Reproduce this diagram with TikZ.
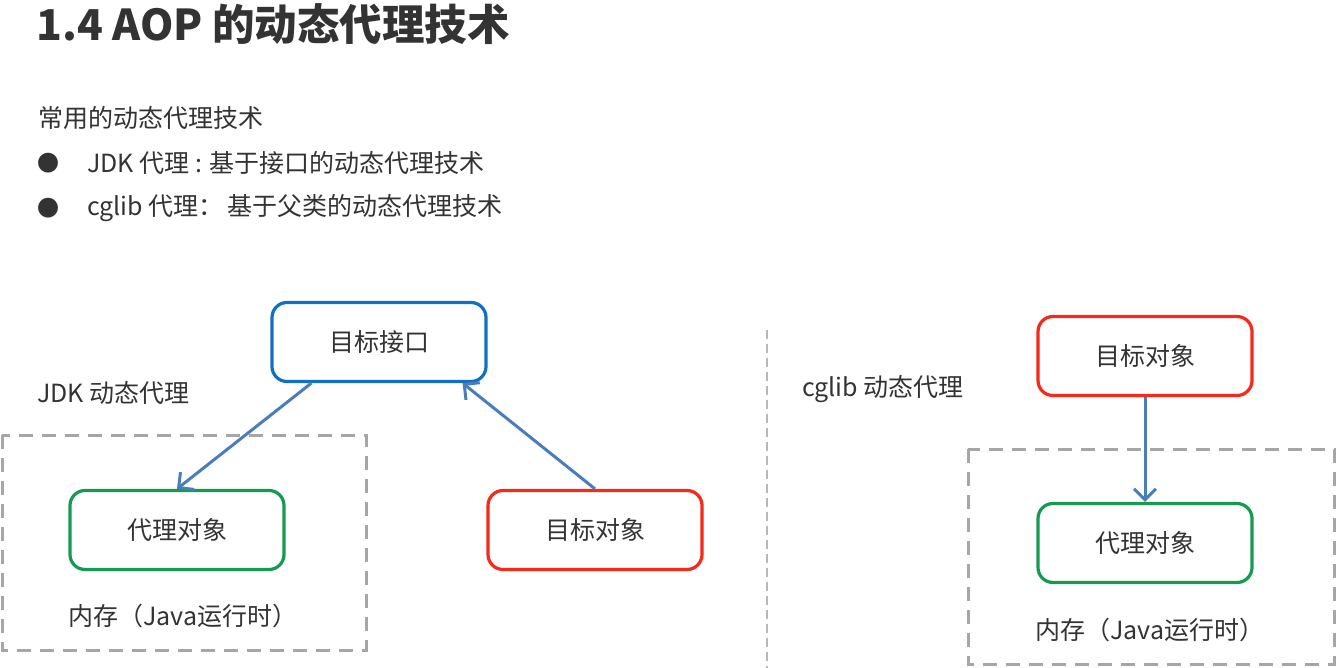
\documentclass[tikz,border=0pt]{standalone}
\usepackage{fontspec}
\setmainfont{Noto Sans CJK SC}
\usetikzlibrary{arrows.meta}
\definecolor{txt}{HTML}{333333}
\definecolor{bblue}{HTML}{1170C4}
\definecolor{bred}{HTML}{F52A1A}
\definecolor{bgreen}{HTML}{169A52}
\definecolor{arr}{HTML}{4A7EBB}
\definecolor{dgray}{HTML}{A6A6A6}
\tikzset{
  obj/.style={draw, line width=3.2pt, rounded corners=15pt, minimum width=214pt, minimum height=79pt, text=txt, font=\fontsize{25}{29}\selectfont, inner sep=0pt},
  lbl/.style={anchor=west, text=txt, font=\fontsize{25}{29}\selectfont, inner sep=0pt},
  conn/.style={draw=arr, line width=3pt, -{Straight Barb[length=11pt,width=22pt,line width=3pt]}},
  membox/.style={draw=dgray, line width=3pt, dash pattern=on 14pt off 9pt},
}
\begin{document}
\begin{tikzpicture}[x=1pt,y=-1pt]
\useasboundingbox[fill=white] (0,0) rectangle (1340,668);
% header
\node[anchor=west, text=txt, inner sep=0pt, font=\fontsize{42.5}{48}\selectfont\bfseries] (title) at (36,24) {1.4 AOP 的动态代理技术};
\node[lbl] (intro) at (38,118) {常用的动态代理技术};
\node[anchor=center, text=txt, inner sep=0pt, font=\fontsize{22}{26}\selectfont] (b1) at (48,163) {●};
\node[lbl] (l1) at (87,163) {JDK 代理 : 基于接口的动态代理技术};
\node[anchor=center, text=txt, inner sep=0pt, font=\fontsize{22}{26}\selectfont] (b2) at (48,208) {●};
\node[lbl] (l2) at (87,208) {cglib 代理：\,基于父类的动态代理技术};
% JDK side
\node[lbl] (jdk) at (37,393) {JDK 动态代理};
\draw[membox] (2,435) rectangle (366,650);
\node[obj, draw=bblue] (iface) at (379,342) {目标接口};
\node[obj, draw=bgreen] (proxyL) at (177,530) {代理对象};
\node[obj, draw=bred] (targetL) at (595,530) {目标对象};
\node[lbl] (memL) at (68,616) {内存（Java运行时）};
\draw[conn] (iface.south west) ++(41,0) -- (proxyL.north);
\draw[conn] (targetL.north) -- ([xshift=-25pt]iface.south east);
% divider
\draw[draw=dgray!80, line width=1.5pt, dash pattern=on 9pt off 5pt] (767,330) coordinate (d1) -- (767,668) coordinate (d2);
% cglib side
\node[lbl] (cglib) at (802,389) {cglib 动态代理};
\draw[membox] (968,449) rectangle (1334,664);
\node[obj, draw=bred] (targetR) at (1145,356) {目标对象};
\node[obj, draw=bgreen] (proxyR) at (1145,543) {代理对象};
\node[lbl] (memR) at (1035,630) {内存（Java运行时）};
\draw[conn] (targetR.south) -- (proxyR.north);
\end{tikzpicture}
\end{document}
